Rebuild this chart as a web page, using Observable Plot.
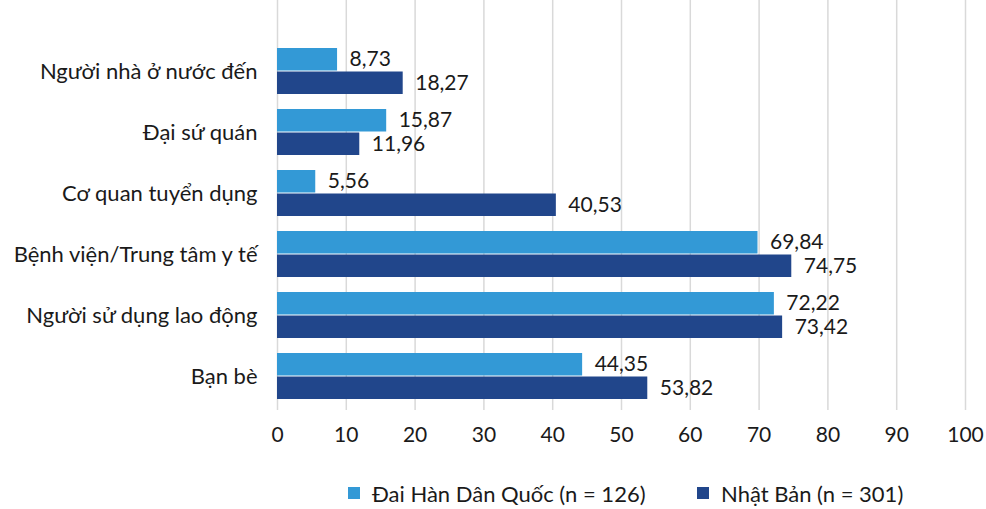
<!DOCTYPE html>
<html>
<head>
<meta charset="utf-8">
<script src="https://cdn.jsdelivr.net/npm/d3@7"></script>
<script src="https://cdn.jsdelivr.net/npm/@observablehq/plot@0.6"></script>
<style>
  body { margin: 0; background: #fff; font-family: Lato, "Open Sans", sans-serif; overflow: hidden; }
  #legend { position: relative; height: 34px; font-size: 22px; color: #1a1a1a; }
  .item { position: absolute; top: 0; display: flex; align-items: center; height: 34px; white-space: nowrap; }
  .sw { width: 12px; height: 12px; margin-right: 12px; }
</style>
</head>
<body>
<div id="chart"></div>
<div id="legend"></div>
<script>
const categories = ["Người nhà ở nước đến", "Đại sứ quán", "Cơ quan tuyển dụng", "Bệnh viện/Trung tâm y tế", "Người sử dụng lao động", "Bạn bè"];
const korea = [8.73, 15.87, 5.56, 69.84, 72.22, 44.35];
const japan = [18.27, 11.96, 40.53, 74.75, 73.42, 53.82];
const seriesNames = ["Đai Hàn Dân Quốc (n = 126)", "Nhật Bản (n = 301)"];
const colors = ["#3399d6", "#21468b"];
const xTicks = [0, 10, 20, 30, 40, 50, 60, 70, 80, 90, 100];

const kData = categories.map((c, i) => ({category: c, value: korea[i]}));
const jData = categories.map((c, i) => ({category: c, value: japan[i]}));
const fmt = v => v.toFixed(2).replace(".", ",");
const half = 23.5;

const plot = Plot.plot({
  width: 986,
  height: 476,
  marginLeft: 277,
  marginRight: 21,
  marginTop: 0,
  marginBottom: 66,
  style: {fontFamily: "Lato, 'Open Sans', sans-serif", color: "#1a1a1a", background: "#fff"},
  x: {domain: [0, 100], ticks: xTicks, tickSize: 0, tickPadding: 17, label: null, tickFormat: d => String(d)},
  y: {domain: categories, insetTop: 38, insetBottom: 1, paddingInner: 0.24, paddingOuter: 0.12, tickSize: 0, tickPadding: 20, label: null},
  marks: [
    Plot.ruleX(xTicks, {stroke: "#d9d9d9", strokeWidth: 1.5}),
    Plot.barX(kData, {x: "value", y: "category", fill: colors[0], insetBottom: half}),
    Plot.barX(jData, {x: "value", y: "category", fill: colors[1], insetTop: half}),
    Plot.text(kData, {x: "value", y: "category", text: d => fmt(d.value), textAnchor: "start", dx: 12, dy: -half / 2, fontSize: 21, fill: "#1a1a1a"}),
    Plot.text(jData, {x: "value", y: "category", text: d => fmt(d.value), textAnchor: "start", dx: 12, dy: half / 2, fontSize: 21, fill: "#1a1a1a"})
  ]
});
plot.querySelectorAll("[aria-label='x-axis tick label']").forEach(g => g.setAttribute("font-size", "21"));
plot.querySelectorAll("[aria-label='y-axis tick label']").forEach(g => g.setAttribute("font-size", "22"));
document.getElementById("chart").appendChild(plot);

const legend = document.getElementById("legend");
const lefts = [348, 697];
seriesNames.forEach((name, i) => {
  const item = document.createElement("div");
  item.className = "item";
  item.style.left = lefts[i] + "px";
  const sw = document.createElement("span");
  sw.className = "sw";
  sw.style.background = colors[i];
  const label = document.createElement("span");
  label.textContent = name;
  item.appendChild(sw);
  item.appendChild(label);
  legend.appendChild(item);
});
</script>
</body>
</html>
